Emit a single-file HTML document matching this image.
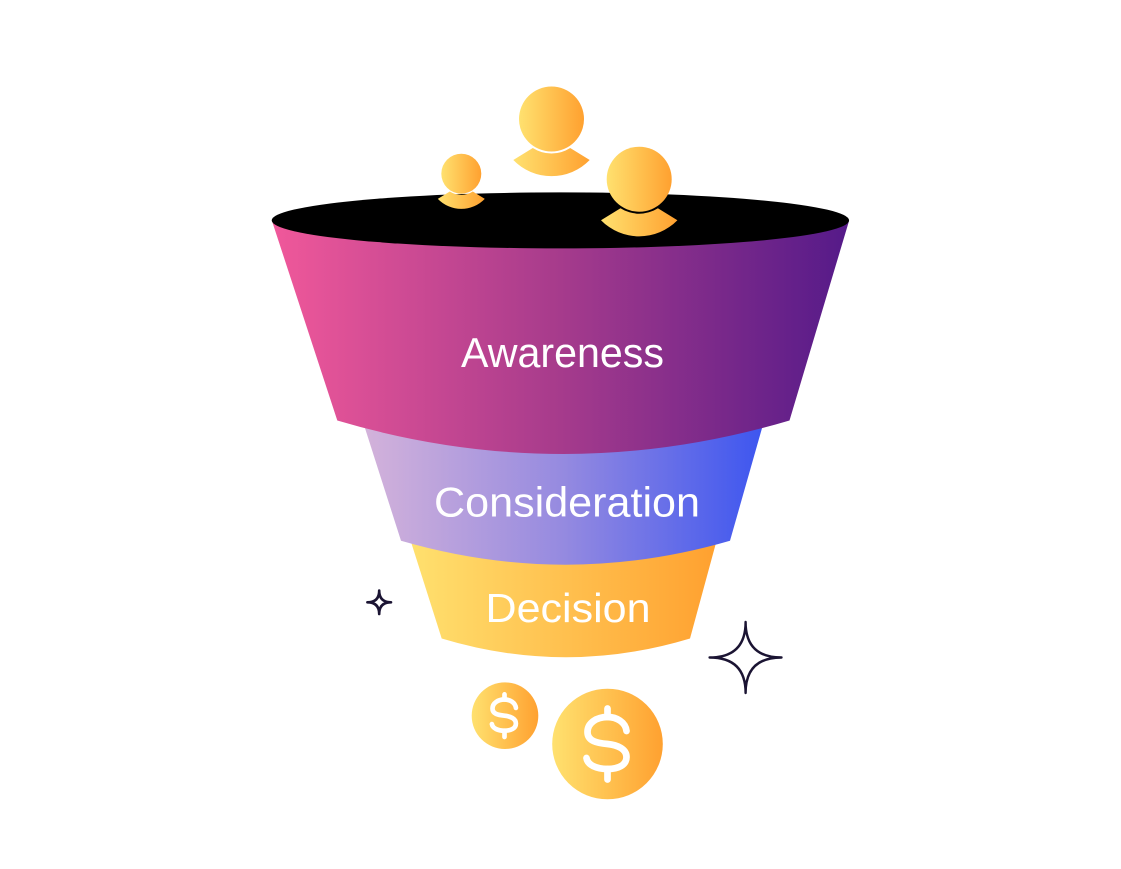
<!DOCTYPE html>
<html>
<head>
<meta charset="utf-8">
<style>
  html, body { margin: 0; padding: 0; background: #ffffff; }
  body { width: 1121px; height: 869px; overflow: hidden; }
  svg { display: block; }
  text { font-family: "Liberation Sans", "DejaVu Sans", sans-serif; fill: #ffffff; }
</style>
</head>
<body>
<svg width="1121" height="869" viewBox="0 0 1121 869" xmlns="http://www.w3.org/2000/svg">
  <defs>
    <linearGradient id="gAw" gradientUnits="userSpaceOnUse" x1="272" y1="0" x2="849" y2="0">
      <stop offset="0" stop-color="#f0589a"/>
      <stop offset="0.5" stop-color="#a63b8c"/>
      <stop offset="1" stop-color="#551a89"/>
    </linearGradient>
    <linearGradient id="gCo" gradientUnits="userSpaceOnUse" x1="356" y1="0" x2="770" y2="0">
      <stop offset="0" stop-color="#d6b4da"/>
      <stop offset="0.5" stop-color="#958ae0"/>
      <stop offset="1" stop-color="#3a54f0"/>
    </linearGradient>
    <linearGradient id="gDe" gradientUnits="userSpaceOnUse" x1="407" y1="0" x2="720" y2="0">
      <stop offset="0" stop-color="#ffe16f"/>
      <stop offset="1" stop-color="#ffa02f"/>
    </linearGradient>
    <linearGradient id="gGold" x1="0" y1="0" x2="1" y2="0">
      <stop offset="0" stop-color="#ffe16f"/>
      <stop offset="1" stop-color="#ffa130"/>
    </linearGradient>
  </defs>

  <!-- Decision segment -->
  <path d="M 407.2 530 L 441.7 638.5 Q 565.8 676 690 638.5 L 719.5 530 Z" fill="url(#gDe)"/>
  <!-- Consideration segment -->
  <path d="M 356 400 L 401 540.8 Q 565.5 588.6 730 540.8 L 770 400 Z" fill="url(#gCo)"/>
  <!-- Awareness segment -->
  <path d="M 272 221 L 337.3 420.5 Q 563.5 487.5 789.5 420.5 L 849 221 Z" fill="url(#gAw)"/>
  <!-- Funnel mouth -->
  <ellipse cx="560.4" cy="220.4" rx="288.7" ry="28" fill="#000000"/>

  <!-- Big person (top) -->
  <g transform="translate(551.5 119)">
    <circle cx="0" cy="0" r="32.5" fill="url(#gGold)"/>
    <path d="M -38.2 41 L -18.7 29 A 34.5 34.5 0 0 0 18.7 29 L 38.2 41 A 53.2 53.2 0 0 1 -38.2 41 Z" fill="url(#gGold)"/>
  </g>
  <!-- Small person (left) -->
  <g transform="translate(461.3 173.7) scale(0.615)">
    <circle cx="0" cy="0" r="32.5" fill="url(#gGold)"/>
    <path d="M -38.2 41 L -18.7 29 A 34.5 34.5 0 0 0 18.7 29 L 38.2 41 A 53.2 53.2 0 0 1 -38.2 41 Z" fill="url(#gGold)"/>
  </g>
  <!-- Right person -->
  <g transform="translate(639.2 179.2)">
    <circle cx="0" cy="0" r="32.5" fill="url(#gGold)"/>
    <path d="M -38.2 41 L -18.7 29 A 34.5 34.5 0 0 0 18.7 29 L 38.2 41 A 53.2 53.2 0 0 1 -38.2 41 Z" fill="url(#gGold)"/>
  </g>

  <!-- Labels -->
  <text x="461" y="367" font-size="42" textLength="203" lengthAdjust="spacingAndGlyphs">Awareness</text>
  <text x="434" y="516.5" font-size="42" textLength="266" lengthAdjust="spacingAndGlyphs">Consideration</text>
  <text x="485.5" y="622" font-size="41" textLength="165" lengthAdjust="spacingAndGlyphs">Decision</text>

  <!-- Sparkles -->
  <path d="M 379.2 590.6 Q 379.2 602.3 391 602.3 Q 379.2 602.3 379.2 614 Q 379.2 602.3 367.4 602.3 Q 379.2 602.3 379.2 590.6 Z"
        fill="none" stroke="#1b1433" stroke-width="2.6" stroke-linejoin="round"/>
  <path d="M 745.6 622 Q 745.6 657.5 781.5 657.5 Q 745.6 657.5 745.6 693 Q 745.6 657.5 709.6 657.5 Q 745.6 657.5 745.6 622 Z"
        fill="none" stroke="#1b1433" stroke-width="2.4" stroke-linejoin="round"/>

  <!-- Coins -->
  <circle cx="505" cy="715.7" r="33.3" fill="url(#gGold)"/>
  <g transform="translate(504.5 715.7) scale(0.6)" fill="none" stroke="#ffffff" stroke-width="7.8" stroke-linecap="round" stroke-linejoin="round">
    <path d="M 19 -13 C 18 -22 9 -27 0 -27 C -11 -27 -20 -21 -20 -12 C -20 -3 -11 -1 0 0 C 10 1 19 5 19 13 C 19 21 11 25 0 25 C -11 25 -20 21 -21 14"/>
    <path d="M 0 -35.5 L 0 -27 M 0 25 L 0 35.5"/>
  </g>

  <circle cx="607.5" cy="744" r="55.3" fill="url(#gGold)"/>
  <g transform="translate(607.5 744)" fill="none" stroke="#ffffff" stroke-width="6.7" stroke-linecap="round" stroke-linejoin="round">
    <path d="M 19 -13 C 18 -22 9 -27 0 -27 C -11 -27 -20 -21 -20 -12 C -20 -3 -11 -1 0 0 C 10 1 19 5 19 13 C 19 21 11 25 0 25 C -11 25 -20 21 -21 14"/>
    <path d="M 0 -35.5 L 0 -27 M 0 25 L 0 35.5"/>
  </g>
</svg>
</body>
</html>
